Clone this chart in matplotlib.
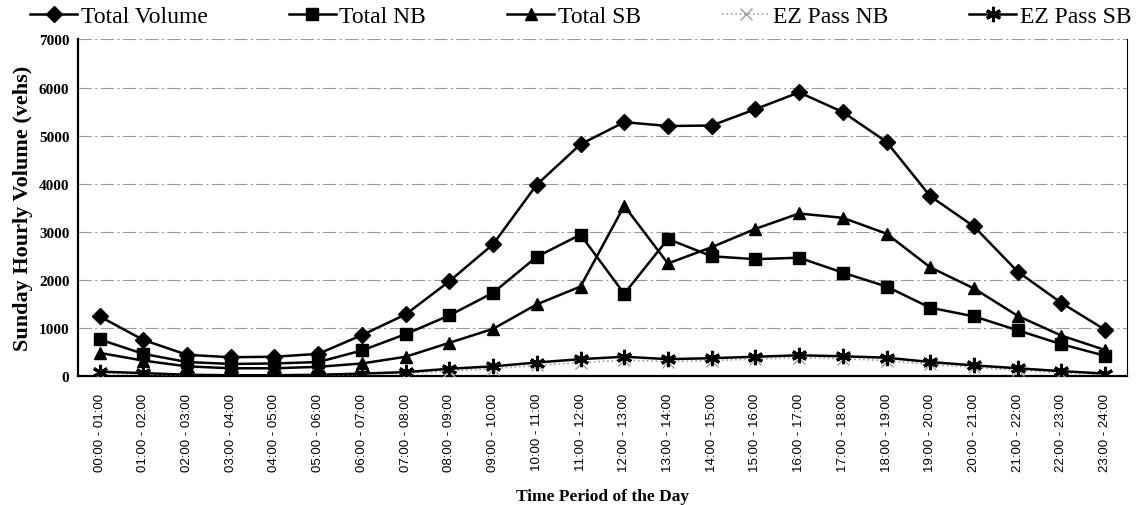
import matplotlib.pyplot as plt

# hourly periods on the x axis
periods = [f"{h:02d}:00 - {h + 1:02d}:00" for h in range(24)]

# Sunday hourly volumes (vehicles)
total_volume = [1240, 750, 440, 390, 400, 460, 850, 1280, 1970, 2740, 3980, 4820,
                5280, 5200, 5210, 5550, 5900, 5490, 4870, 3740, 3110, 2170, 1520, 960]
total_nb = [760, 460, 290, 250, 260, 290, 530, 870, 1260, 1730, 2480, 2940,
            1710, 2850, 2490, 2430, 2460, 2150, 1860, 1420, 1240, 950, 660, 420]
total_sb = [480, 320, 200, 160, 160, 190, 260, 400, 690, 980, 1490, 1860,
            3540, 2340, 2680, 3060, 3380, 3290, 2960, 2260, 1820, 1250, 840, 540]
ez_nb = [60, 35, 15, 10, 10, 15, 30, 55, 100, 150, 220, 280,
         330, 300, 320, 350, 380, 360, 320, 240, 180, 120, 70, 30]
ez_sb = [90, 60, 25, 15, 15, 25, 50, 80, 150, 200, 280, 350,
         400, 350, 370, 400, 430, 410, 380, 290, 220, 160, 100, 50]

serif = "Liberation Serif"
x = range(len(periods))

fig = plt.figure(figsize=(11.43, 5.06), dpi=100)
ax = fig.add_axes([0.068, 0.255, 0.918, 0.665])

ax.plot(x, total_volume, color="black", lw=1.8, marker="D", ms=8, label="Total Volume", zorder=5)
ax.plot(x, total_nb, color="black", lw=1.8, marker="s", ms=9, label="Total NB", zorder=5)
ax.plot(x, total_sb, color="black", lw=1.8, marker="^", ms=9, label="Total SB", zorder=5)
ax.plot(x, ez_nb, color="#a0a0a0", lw=1.2, ls=":", marker="x", ms=8, mew=1.0,
        label="EZ Pass NB", zorder=4)
ax.plot(x, ez_sb, color="black", lw=1.8, marker=(6, 2, 0), ms=11, mew=2.2,
        label="EZ Pass SB", zorder=6)

ax.set_xlim(-0.5, 23.5)
ax.set_ylim(0, 7000)
ax.set_yticks(range(0, 7001, 1000))
ax.set_xticks(list(x))
ax.set_xticklabels(periods, rotation=90, fontsize=9.5, family="Liberation Sans")
for lbl in ax.get_yticklabels():
    lbl.set_fontfamily(serif)
    lbl.set_fontweight("bold")
    lbl.set_fontsize(11)
ax.tick_params(axis="y", length=0, pad=6)
ax.tick_params(axis="x", length=0, pad=12)

ax.yaxis.grid(True, color="#9a9a9a", lw=0.8, ls=(0, (12, 3, 2, 3)))
ax.set_axisbelow(True)
ax.spines["top"].set_visible(False)
for s in ("left", "bottom"):
    ax.spines[s].set_linewidth(1.6)
ax.spines["right"].set_linewidth(0.8)

ax.set_ylabel("Sunday Hourly Volume (vehs)", family=serif, fontweight="bold", fontsize=16, labelpad=4)
ax.set_xlabel("Time Period of the Day", family=serif, fontweight="bold", fontsize=12.5, labelpad=12)

fig.legend(loc="upper left", bbox_to_anchor=(0.018, 0.955, 0.98, 0.05), mode="expand",
           ncol=5, frameon=False, prop={"family": serif, "size": 17},
           handlelength=2.0, handletextpad=0.15, borderaxespad=0.0)

fig.savefig("out.png", dpi=100)
